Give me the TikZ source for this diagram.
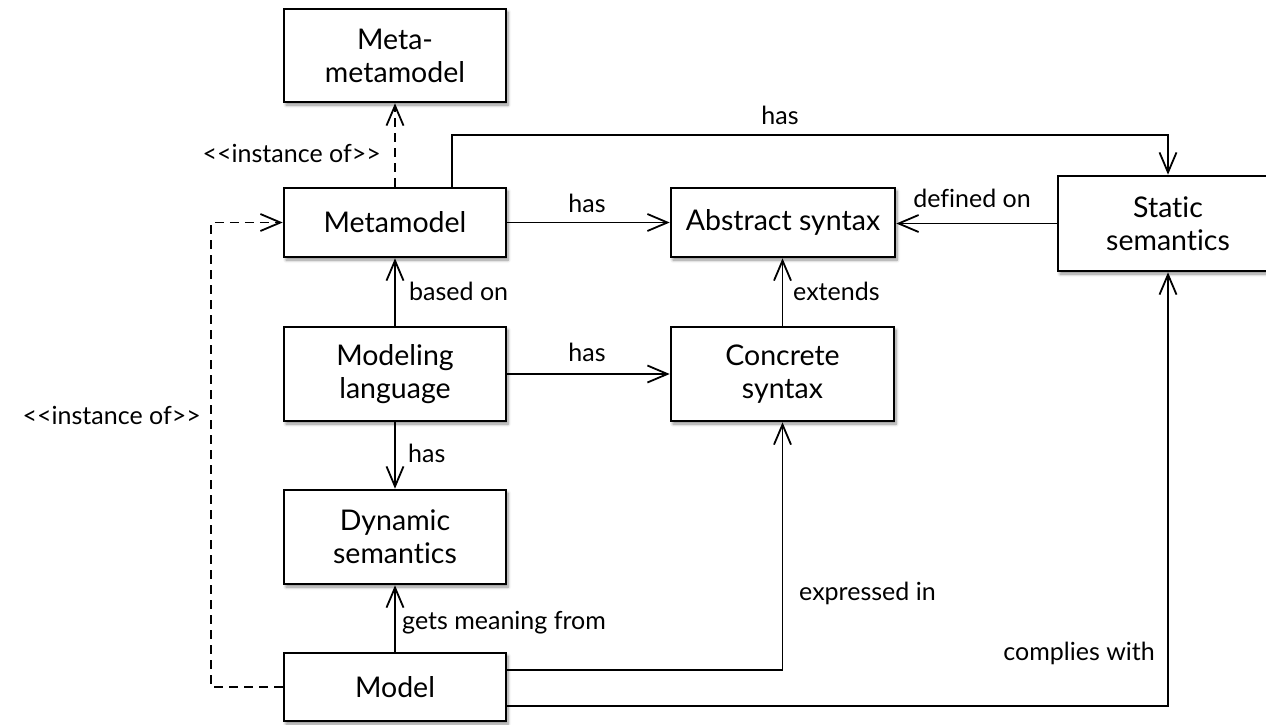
\documentclass[tikz,border=0pt]{standalone}
\usepackage{fontspec}
\setmainfont{Lato}[Ligatures={NoCommon}]
\usetikzlibrary{arrows.meta,shadows.blur}

\tikzset{
  box/.style={draw, line width=2.6pt, fill=white, inner sep=0pt, align=center,
    font=\fontsize{28.5}{33}\selectfont,
    blur shadow={shadow xshift=2pt, shadow yshift=-3pt, shadow blur radius=3pt,
      shadow blur steps=6, shadow opacity=45}},
  lbl/.style={inner sep=0pt, font=\fontsize{25}{28}\selectfont},
  conn/.style={line width=1.8pt, line join=miter},
  arr/.style={conn, -{Straight Barb[length=20pt,width=17pt,line width=1.8pt]}},
  darr/.style={arr, dash pattern=on 9pt off 6pt},
}

\begin{document}
\begin{tikzpicture}[x=1pt, y=-1pt]
\useasboundingbox (0,0) rectangle (1266,724);

% boxes
\node[box, minimum width=222pt, minimum height=93pt] (mmm)   at (395,55.5) {Meta-\\metamodel};
\node[box, minimum width=222pt, minimum height=69pt] (mm)    at (395,222.5) {Metamodel};
\node[box, minimum width=224pt, minimum height=69pt] (abs)   at (783,222.5) {Abstract syntax};
\node[box, minimum width=220pt, minimum height=95pt] (stat)  at (1168,223.5) {Static\\semantics};
\node[box, minimum width=222pt, minimum height=94pt] (ml)    at (395,374) {Modeling\\language};
\node[box, minimum width=223pt, minimum height=94pt] (cs)    at (782.5,374) {Concrete\\syntax};
\node[box, minimum width=222pt, minimum height=94pt] (ds)    at (395,537) {Dynamic\\semantics};
\node[box, minimum width=222pt, minimum height=68pt] (model) at (395,687) {Model};

% bend points
\coordinate (topbend) at (452,135);
\coordinate (leftbend) at (211,687);

% connectors
\draw[darr] (mm.north) -- (mmm.south);
\draw[arr] (mm.north -| topbend) -- (topbend) -| (stat.north);
\draw[arr] (mm.east) -- (abs.west);
\draw[arr] (stat.west) -- (abs.east |- stat.west);
\draw[arr] (ml.north) -- (mm.south);
\draw[arr] (ml.east) -- (cs.west);
\draw[arr] (cs.north) -- (abs.south -| cs.north);
\draw[arr] (ml.south) -- (ds.north);
\draw[arr] (model.north) -- (ds.south);
\draw[arr] ([yshift=17pt]model.east) -| (cs.south);
\draw[arr] ([yshift=-19pt]model.east) -| (stat.south);
\draw[darr] (model.west) -- (leftbend) |- (mm.west);

% labels
\node[lbl, anchor=east] (l1) at (381,153) {<{}<instance of>{}>};
\node[lbl, anchor=east] (l2) at (201,415) {<{}<instance of>{}>};
\node[lbl] (l3) at (780,115) {has};
\node[lbl] (l4) at (587,203) {has};
\node[lbl] (l5) at (972,198) {defined on};
\node[lbl, anchor=west] (l6) at (409,291) {based on};
\node[lbl, anchor=west] (l7) at (793,291) {extends};
\node[lbl] (l8) at (587,352) {has};
\node[lbl, anchor=west] (l9) at (408,453) {has};
\node[lbl, anchor=west] (l10) at (402,623) {gets meaning from};
\node[lbl, anchor=west] (l11) at (799,593) {expressed in};
\node[lbl, anchor=east] (l12) at (1155,653) {complies with};
\end{tikzpicture}
\end{document}
